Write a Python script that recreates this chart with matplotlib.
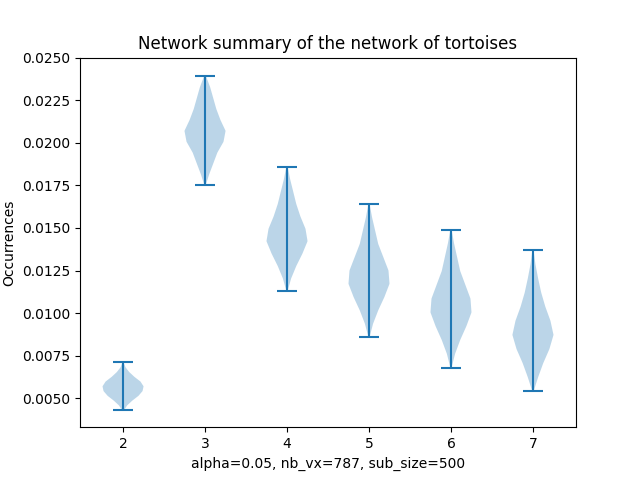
import numpy as np
import matplotlib
matplotlib.use("Agg")
import matplotlib.pyplot as plt

positions = [2, 3, 4, 5, 6, 7]
mins = [0.0043, 0.0175, 0.0113, 0.0086, 0.0068, 0.0054]
maxs = [0.0071, 0.0239, 0.0186, 0.0164, 0.0149, 0.0137]
# relative widths, evenly spaced from min to max
profiles = [
    [0.05, 0.2, 0.45, 0.75, 0.95, 1.0, 0.85, 0.55, 0.3, 0.12, 0.03],
    [0.03, 0.2, 0.4, 0.6, 0.9, 1.0, 0.75, 0.55, 0.4, 0.25, 0.05],
    [0.03, 0.2, 0.45, 0.75, 1.0, 0.9, 0.65, 0.45, 0.3, 0.15, 0.03],
    [0.03, 0.2, 0.45, 0.75, 1.0, 0.95, 0.7, 0.45, 0.3, 0.15, 0.03],
    [0.03, 0.2, 0.45, 0.75, 1.0, 0.95, 0.7, 0.45, 0.3, 0.15, 0.03],
    [0.03, 0.25, 0.5, 0.8, 1.0, 0.85, 0.6, 0.4, 0.25, 0.12, 0.03],
]

stats = []
for lo, hi, prof in zip(mins, maxs, profiles):
    base = np.linspace(lo, hi, len(prof))
    coords = np.linspace(lo, hi, 200)
    vals = np.interp(coords, base, prof)
    stats.append(dict(coords=coords, vals=vals, mean=(lo + hi) / 2,
                      median=(lo + hi) / 2, min=lo, max=hi))

fig, ax = plt.subplots(figsize=(6.4, 4.8), dpi=100)
ax.violin(stats, positions=positions)
ax.set_ylim(0.0033, 0.0250)
ax.set_title("Network summary of the network of tortoises")
ax.set_ylabel("Occurrences")
ax.set_xlabel("alpha=0.05, nb_vx=787, sub_size=500")
fig.savefig("out.png")
